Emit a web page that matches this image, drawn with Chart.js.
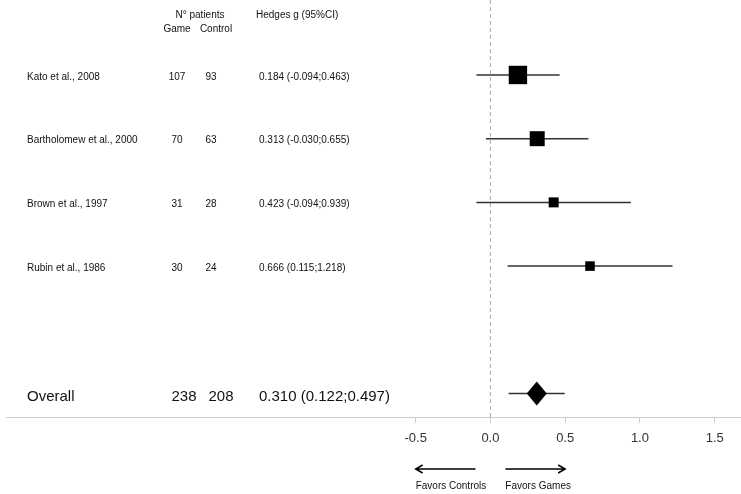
<!DOCTYPE html>
<html>
<head>
<meta charset="utf-8">
<script src="https://cdn.jsdelivr.net/npm/chart.js@4"></script>
<style>
    html, body { margin: 0; padding: 0; background: #fff; }
    #wrap { width: 741px; height: 494px; }
</style>
</head>
<body>
<div id="wrap"><canvas id="forest"></canvas></div>
<script>
// study rows, top to bottom
const studies = ['Kato et al., 2008', 'Bartholomew et al., 2000', 'Brown et al., 1997', 'Rubin et al., 1986'];
const gameN = [107, 70, 31, 30];
const controlN = [93, 63, 28, 24];
const hedgesG = [0.184, 0.313, 0.423, 0.666];
const ciLow = [-0.094, -0.030, -0.094, 0.115];
const ciHigh = [0.463, 0.655, 0.939, 1.218];

const overallGame = 238;
const overallControl = 208;
const overallG = 0.310;
const overallLow = 0.122;
const overallHigh = 0.497;

const xTicks = [-0.5, 0.0, 0.5, 1.0, 1.5];

const OVERALL_ROW = studies.length + 2;
const FONT = '"Liberation Sans", Arial, sans-serif';

const fmt = v => v.toFixed(3);
const ciText = (g, lo, hi) => `${fmt(g)} (${fmt(lo)};${fmt(hi)})`;

const ciLines = studies.map((name, i) => ({
    type: 'line',
    data: [{ x: ciLow[i], y: i + 1 }, { x: ciHigh[i], y: i + 1 }],
    borderColor: '#333',
    borderWidth: 1.5,
    pointRadius: 0,
}));

ciLines.push({
    type: 'line',
    data: [{ x: overallLow, y: OVERALL_ROW }, { x: overallHigh, y: OVERALL_ROW }],
    borderColor: '#333',
    borderWidth: 1.5,
    pointRadius: 0,
});

const squares = {
    type: 'scatter',
    data: studies.map((name, i) => ({ x: hedgesG[i], y: i + 1 })),
    pointStyle: 'rect',
    // square side grows with the square root of the study size
    pointRadius: ctx => 1.3 * Math.sqrt(gameN[ctx.dataIndex] + controlN[ctx.dataIndex]) / Math.SQRT2,
    backgroundColor: '#000',
    borderWidth: 0,
};

const forestExtras = {
    id: 'forestExtras',
    beforeDatasetsDraw(chart) {
        const { ctx, chartArea, scales: { x } } = chart;
        const x0 = x.getPixelForValue(0);
        ctx.save();
        ctx.strokeStyle = '#aaa';
        ctx.lineWidth = 1;
        ctx.setLineDash([4, 3]);
        ctx.beginPath();
        ctx.moveTo(x0, chartArea.top);
        ctx.lineTo(x0, chartArea.bottom);
        ctx.stroke();
        ctx.restore();
    },
    afterDatasetsDraw(chart) {
        const { ctx, scales: { x, y } } = chart;
        const cx = x.getPixelForValue(overallG);
        const cy = y.getPixelForValue(OVERALL_ROW);
        ctx.save();
        ctx.fillStyle = '#000';
        ctx.beginPath();
        ctx.moveTo(cx, cy - 12);
        ctx.lineTo(cx + 10, cy);
        ctx.lineTo(cx, cy + 12);
        ctx.lineTo(cx - 10, cy);
        ctx.closePath();
        ctx.fill();
        ctx.restore();
    },
    afterDraw(chart) {
        const { ctx, scales: { x, y } } = chart;
        ctx.save();
        ctx.fillStyle = '#111';
        ctx.textBaseline = 'middle';

        ctx.font = `10px ${FONT}`;
        ctx.textAlign = 'center';
        ctx.fillText('N° patients', 200, 15);
        ctx.fillText('Game', 177, 29);
        ctx.fillText('Control', 216, 29);
        ctx.textAlign = 'left';
        ctx.fillText('Hedges g (95%CI)', 256, 15);

        studies.forEach((name, i) => {
            const py = y.getPixelForValue(i + 1) + 2;
            ctx.textAlign = 'left';
            ctx.fillText(name, 27, py);
            ctx.fillText(ciText(hedgesG[i], ciLow[i], ciHigh[i]), 259, py);
            ctx.textAlign = 'center';
            ctx.fillText(String(gameN[i]), 177, py);
            ctx.fillText(String(controlN[i]), 211, py);
        });

        const oy = y.getPixelForValue(OVERALL_ROW) + 3;
        ctx.font = `15px ${FONT}`;
        ctx.textAlign = 'left';
        ctx.fillText('Overall', 27, oy);
        ctx.fillText(ciText(overallG, overallLow, overallHigh), 259, oy);
        ctx.textAlign = 'center';
        ctx.fillText(String(overallGame), 184, oy);
        ctx.fillText(String(overallControl), 221, oy);

        // direction arrows under the axis
        const ay = 469;
        ctx.strokeStyle = '#000';
        ctx.lineWidth = 1.5;
        const arrow = (from, to) => {
            const a = x.getPixelForValue(from);
            const b = x.getPixelForValue(to);
            const dir = Math.sign(b - a);
            ctx.beginPath();
            ctx.moveTo(a, ay);
            ctx.lineTo(b, ay);
            ctx.moveTo(b - dir * 7, ay - 4);
            ctx.lineTo(b, ay);
            ctx.lineTo(b - dir * 7, ay + 4);
            ctx.stroke();
        };
        arrow(-0.1, -0.5);
        arrow(0.1, 0.5);

        ctx.font = `10px ${FONT}`;
        ctx.textAlign = 'left';
        ctx.fillText('Favors Controls', x.getPixelForValue(-0.5), 486);
        ctx.fillText('Favors Games', x.getPixelForValue(0.1), 486);
        ctx.restore();
    },
};

new Chart(document.getElementById('forest'), {
    data: { datasets: [squares, ...ciLines] },
    options: {
        responsive: true,
        maintainAspectRatio: false,
        animation: false,
        layout: { autoPadding: false, padding: { left: 6, right: 0, top: 0, bottom: 0 } },
        plugins: {
            legend: { display: false },
            tooltip: { enabled: false },
        },
        scales: {
            x: {
                type: 'linear',
                min: -3.24,
                max: 1.676,
                afterBuildTicks: scale => {
                    scale.ticks = xTicks.map(value => ({ value }));
                },
                afterFit: scale => {
                    scale.height = 77;
                },
                grid: { drawOnChartArea: false, tickLength: 6, color: '#ccc' },
                border: { color: '#ccc', width: 1 },
                ticks: {
                    font: { size: 13, family: FONT },
                    color: '#333',
                    padding: 8,
                    maxRotation: 0,
                    autoSkip: false,
                    callback: value => Number(value).toFixed(1),
                },
            },
            y: {
                type: 'linear',
                display: false,
                reverse: true,
                min: -0.177,
                max: 6.369,
            },
        },
    },
    plugins: [forestExtras],
});
</script>
</body>
</html>
